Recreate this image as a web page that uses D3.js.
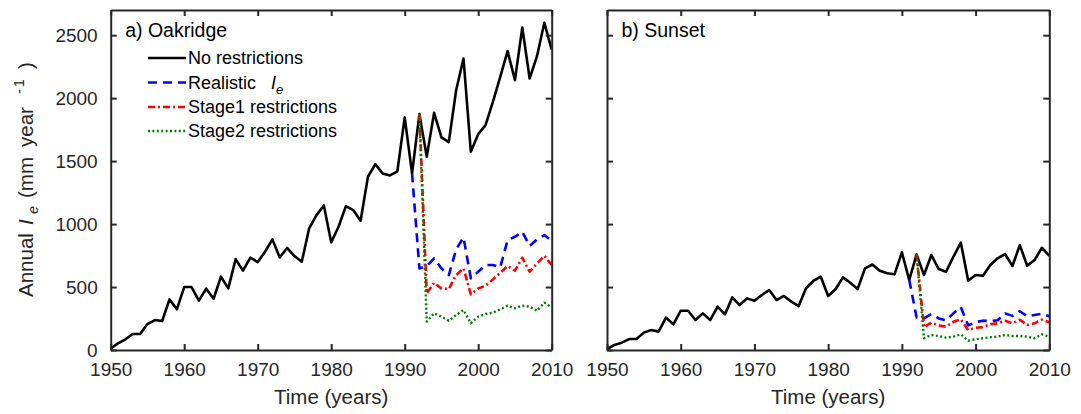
<!DOCTYPE html>
<html>
<head>
<meta charset="utf-8">
<script src="https://cdn.jsdelivr.net/npm/d3@7"></script>
<style>
  html, body { margin: 0; padding: 0; background: #fff; }
  svg { display: block; font-family: "Liberation Sans", Arial, Helvetica, sans-serif; }
</style>
</head>
<body>
<svg id="chart" width="1081" height="414"></svg>
<script>
// Annual effective infiltration I_e (mm/year), 1950–2010
const years = d3.range(1950, 2011);
const xTicks = [1950, 1960, 1970, 1980, 1990, 2000, 2010];
const yTicks = [0, 500, 1000, 1500, 2000, 2500];

// Oakridge
const oakNoRestrictions = [10, 53, 85, 127, 127, 206, 238, 230, 402, 323,
  500, 500, 392, 487, 407, 582, 489, 722, 630, 733,
  698, 780, 878, 735, 810, 746, 701, 966, 1071, 1148,
  855, 979, 1143, 1111, 1026, 1376, 1476, 1402, 1386, 1418,
  1847, 1402, 1873, 1534, 1883, 1688, 1651, 2063, 2315, 1574,
  1714, 1786, 1971, 2169, 2373, 2143, 2561, 2156, 2333, 2598, 2386];
const oakRealisticYears = d3.range(1991, 2011);
const oakRealistic = [1402, 648, 665, 727, 648, 595, 800, 894, 569, 621,
  675, 675, 656, 873, 899, 939, 825, 878, 913, 865];
const oakStageYears = d3.range(1992, 2011);
const oakStage1 = [1873, 450, 534, 489, 484, 595, 648, 442, 489, 510,
  561, 614, 667, 630, 733, 622, 688, 749, 675];
const oakStage2 = [1873, 225, 291, 265, 233, 278, 317, 212, 265, 286,
  296, 323, 352, 331, 352, 344, 312, 376, 339];

// Sunset
const sunNoRestrictions = [5, 40, 58, 87, 87, 138, 159, 146, 257, 204,
  312, 312, 238, 291, 238, 344, 283, 418, 357, 410,
  391, 437, 476, 397, 429, 384, 349, 490, 548, 582,
  429, 482, 577, 534, 484, 648, 679, 630, 609, 601,
  775, 556, 759, 595, 754, 643, 621, 741, 852, 550,
  595, 590, 675, 728, 762, 667, 833, 669, 714, 812, 748];
const sunRealisticYears = d3.range(1991, 2011);
const sunRealistic = [556, 258, 251, 285, 251, 236, 291, 339, 195, 222,
  233, 229, 236, 291, 271, 308, 268, 278, 288, 268];
const sunStageYears = d3.range(1992, 2011);
const sunStage1 = [759, 180, 218, 195, 185, 225, 243, 159, 176, 182,
  205, 212, 232, 212, 240, 198, 212, 241, 220];
const sunStage2 = [759, 93, 119, 111, 98, 106, 124, 74, 85, 93,
  101, 106, 119, 111, 111, 106, 93, 124, 106];

const seriesNames = ["No restrictions", "Realistic", "Stage1 restrictions", "Stage2 restrictions"];

const styles = [
  { color: "#000000", dash: null, width: 2.6 },
  { color: "#0000ff", dash: "9,6", width: 2.6 },
  { color: "#ff0000", dash: "7,3,2,3", width: 2.6 },
  { color: "#008000", dash: "2,2.4", width: 2.4 }
];

const panels = [
  { title: "a) Oakridge", left: 110.7, right: 551.7, showYLabels: true, legend: true,
    series: [
      { x: years, y: oakNoRestrictions },
      { x: oakRealisticYears, y: oakRealistic },
      { x: oakStageYears, y: oakStage1 },
      { x: oakStageYears, y: oakStage2 }
    ] },
  { title: "b) Sunset", left: 607, right: 1049.3, showYLabels: false, legend: false,
    series: [
      { x: years, y: sunNoRestrictions },
      { x: sunRealisticYears, y: sunRealistic },
      { x: sunStageYears, y: sunStage1 },
      { x: sunStageYears, y: sunStage2 }
    ] }
];

const plotTop = 10, plotBottom = 350;
const axisColor = "#262626";
const tickFont = 19;
const svg = d3.select("#chart");

panels.forEach(p => {
  const x = d3.scaleLinear().domain([1950, 2010]).range([p.left, p.right]);
  const y = d3.scaleLinear().domain([0, 2700]).range([plotBottom, plotTop]);
  const g = svg.append("g");

  // data lines (clipped to the plot box)
  const clipId = "clip-" + p.title.replace(/\W/g, "");
  svg.append("clipPath").attr("id", clipId)
    .append("rect").attr("x", p.left).attr("y", plotTop)
    .attr("width", p.right - p.left).attr("height", plotBottom - plotTop);

  const lines = g.append("g").attr("clip-path", `url(#${clipId})`);
  p.series.forEach((s, i) => {
    const pts = s.x.map((yr, k) => [yr, s.y[k]]);
    const line = d3.line().x(d => x(d[0])).y(d => y(d[1]));
    lines.append("path")
      .datum(pts)
      .attr("d", line)
      .attr("fill", "none")
      .attr("stroke", styles[i].color)
      .attr("stroke-width", styles[i].width)
      .attr("stroke-dasharray", styles[i].dash)
      .attr("stroke-linejoin", "round");
  });

  // box axes with inward ticks on all four sides
  const axB = d3.axisBottom(x).tickValues(xTicks).tickFormat(d3.format("d"))
    .tickSizeInner(-6).tickSizeOuter(0).tickPadding(12.5);
  const axT = d3.axisTop(x).tickValues(xTicks).tickFormat("")
    .tickSizeInner(-6).tickSizeOuter(0);
  const axL = d3.axisLeft(y).tickValues(yTicks)
    .tickFormat(p.showYLabels ? d3.format("d") : "")
    .tickSizeInner(-6).tickSizeOuter(0).tickPadding(13);
  const axR = d3.axisRight(y).tickValues(yTicks).tickFormat("")
    .tickSizeInner(-6).tickSizeOuter(0);

  const gB = g.append("g").attr("transform", `translate(0,${plotBottom})`).call(axB);
  const gT = g.append("g").attr("transform", `translate(0,${plotTop})`).call(axT);
  const gL = g.append("g").attr("transform", `translate(${p.left},0)`).call(axL);
  const gR = g.append("g").attr("transform", `translate(${p.right},0)`).call(axR);

  [gB, gT, gL, gR].forEach(a => {
    a.select(".domain").attr("stroke", axisColor).attr("stroke-width", 2);
    a.selectAll(".tick line").attr("stroke", axisColor).attr("stroke-width", 2);
    a.selectAll(".tick text")
      .attr("fill", axisColor)
      .style("font-size", tickFont + "px")
      .style("font-family", "'Liberation Sans', Arial, sans-serif");
  });

  // x axis title
  g.append("text")
    .attr("x", (p.left + p.right) / 2)
    .attr("y", 404)
    .attr("text-anchor", "middle")
    .attr("fill", axisColor)
    .style("font-size", "20.5px")
    .text("Time (years)");

  // panel title
  g.append("text")
    .attr("x", p.left + 14.5)
    .attr("y", 37)
    .attr("fill", "#000")
    .style("font-size", "19.5px")
    .text(p.title);

  // legend
  if (p.legend) {
    const lx0 = 148, lx1 = 186, rowY = [58, 82.5, 107, 131];
    seriesNames.forEach((name, i) => {
      const ly = rowY[i];
      g.append("line")
        .attr("x1", lx0).attr("x2", lx1).attr("y1", ly).attr("y2", ly)
        .attr("stroke", styles[i].color)
        .attr("stroke-width", styles[i].width)
        .attr("stroke-dasharray", styles[i].dash);
      const t = g.append("text")
        .attr("x", lx1 + 2)
        .attr("y", ly + 6.3)
        .attr("fill", "#000")
        .style("font-size", "18px");
      if (i === 1) {
        t.append("tspan").text(name + "\u00a0\u00a0\u00a0");
        t.append("tspan").attr("font-style", "italic").text("I");
        t.append("tspan").attr("dy", 5).style("font-size", "13px").attr("font-style", "italic").text("e");
      } else {
        t.text(name);
      }
    });
  }
});

// y axis title: Annual I_e (mm year^-1), laid out along the rotated baseline
const yTitle = svg.append("text")
  .attr("transform", "translate(33,297) rotate(-90)")
  .attr("fill", axisColor)
  .style("font-size", "20.5px");
yTitle.append("tspan").attr("x", 0).text("Annual");
yTitle.append("tspan").attr("x", 72).attr("font-style", "italic").text("I");
yTitle.append("tspan").attr("x", 83).attr("dy", 5).style("font-size", "14.5px")
  .attr("font-style", "italic").text("e");
yTitle.append("tspan").attr("x", 99).attr("dy", -5).text("(mm");
yTitle.append("tspan").attr("x", 150).text("year");
yTitle.append("tspan").attr("x", 203).attr("dy", -9).style("font-size", "14.5px")
  .attr("letter-spacing", "2px").text("-1");
yTitle.append("tspan").attr("x", 228).attr("dy", 9).text(")");
</script>
</body>
</html>
